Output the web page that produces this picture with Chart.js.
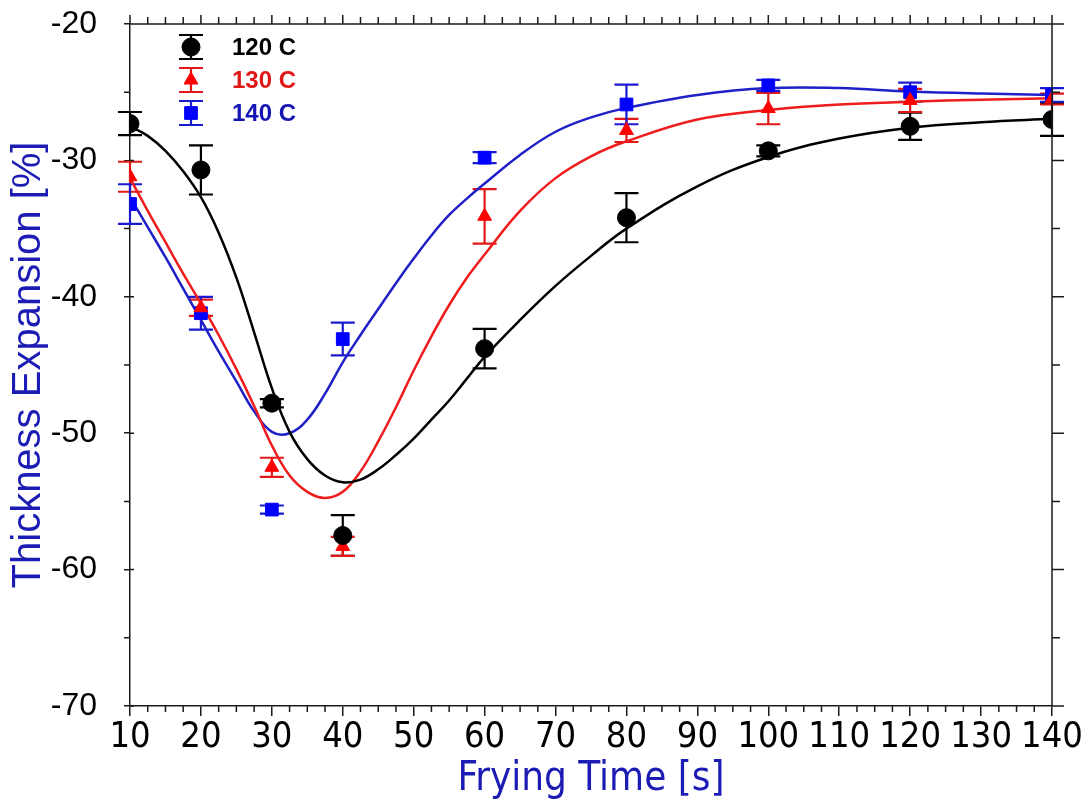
<!DOCTYPE html>
<html>
<head>
<meta charset="utf-8">
<script src="https://cdn.jsdelivr.net/npm/chart.js@4.4.1/dist/chart.umd.min.js"></script>
<style>
  html, body { margin: 0; padding: 0; background: #fff; }
  #wrap { width: 1081px; height: 805px; }
</style>
</head>
<body>
<div id="wrap"><canvas id="expansionchart" width="1081" height="805"></canvas></div>
<script>
// measured points (mean +/- sd)
const fryingTimes = [10, 20, 30, 40, 60, 80, 100, 120, 140]
const exp120 = [-27.3, -30.7, -47.8, -57.5, -43.8, -34.2, -29.3, -27.5, -27.0]
const err120 = [0.85, 1.8, 0.3, 1.5, 1.45, 1.8, 0.4, 1.0, 1.2]
const exp130 = [-31.2, -40.8, -52.5, -58.3, -34.1, -27.8, -26.2, -25.6, -25.5]
const err130 = [1.1, 0.6, 0.7, 0.7, 2.0, 0.85, 1.15, 0.85, 0.4]
const exp140 = [-33.2, -41.2, -55.6, -43.1, -29.8, -25.9, -24.5, -25.0, -25.2]
const err140 = [1.45, 1.2, 0.3, 1.2, 0.4, 1.45, 0.4, 0.7, 0.5]

// fitted curves
const fitTimes = [10, 12.5, 15, 17.5, 20, 22.5, 25, 27.5, 30, 32.5, 35, 37.5, 40, 42.5, 45, 47.5, 50, 52.5, 55, 57.5, 60,
    65, 70, 75, 80, 90, 100, 110, 120, 130, 140]
const fit120 = [-27.5, -28.2, -29.3, -30.8, -32.7, -35.3, -38.6, -42.6, -46.7, -49.9, -51.9, -53.1, -53.6, -53.4, -52.65, -51.6, -50.4, -49.0, -47.6, -46.0, -44.4,
    -41.7, -39.2, -37.0, -35.0, -31.9, -29.75, -28.4, -27.6, -27.2, -26.95]
const fit130 = [-31.3, -33.7, -36.0, -38.3, -40.5, -42.8, -45.3, -48.0, -50.9, -53.1, -54.3, -54.75, -54.3, -52.8, -50.6, -48.1, -45.4, -42.9, -40.6, -38.6, -36.9,
    -33.7, -31.3, -29.7, -28.6, -27.0, -26.3, -25.9, -25.7, -25.55, -25.45]
const fit140 = [-32.7, -34.9, -37.1, -39.4, -41.7, -44.0, -46.2, -48.4, -49.9, -50.0, -49.0, -47.1, -44.8, -42.8, -40.9, -39.0, -37.2, -35.5, -34.0, -32.8, -31.7,
    -29.6, -27.9, -26.85, -26.15, -25.2, -24.7, -24.7, -24.95, -25.1, -25.2]

const seriesNames = ['120 C', '130 C', '140 C']

const axisBlue = '#1c1cb4'
const narrowFont = '"Liberation Sans Narrow", "Arial Narrow", "DejaVu Sans Condensed", sans-serif'
const plainFont = '"Liberation Sans", Arial, sans-serif'

const xy = (xs, ys) => xs.map((v, i) => ({x: v, y: ys[i]}))

const markerStyles = [
    {pointStyle: 'circle', radius: 9, color: '#000000', bar: '#000000', text: '#000000'},
    {pointStyle: 'triangle', radius: 8, color: '#ff0000', bar: '#e01818', text: '#e01818'},
    {pointStyle: 'rect', radius: 9, color: '#0000ff', bar: '#1a1ad0', text: '#1414b4'}
]

function fitLine(data, color) {
    return {
        data: data,
        showLine: true,
        borderColor: color,
        borderWidth: 2.5,
        pointRadius: 0,
        tension: 0.4,
        order: 2
    }
}

function markers(data, errs, st) {
    return {
        data: data,
        errors: errs,
        barColor: st.bar,
        pointStyle: st.pointStyle,
        pointRadius: st.radius,
        backgroundColor: st.color,
        borderColor: st.color,
        borderWidth: 1,
        order: 0
    }
}

// vertical error bars with caps, drawn under the markers
const errorBars = {
    id: 'errorBars',
    beforeDatasetsDraw(chart) {
        const {ctx, scales: {x, y}} = chart
        chart.data.datasets.forEach(ds => {
            if (!ds.errors) return
            ctx.save()
            ctx.strokeStyle = ds.barColor
            ctx.lineWidth = 2.2
            ds.data.forEach((p, i) => {
                const px = x.getPixelForValue(p.x)
                const top = y.getPixelForValue(p.y + ds.errors[i])
                const bot = y.getPixelForValue(p.y - ds.errors[i])
                ctx.beginPath()
                ctx.moveTo(px, top); ctx.lineTo(px, bot)
                ctx.moveTo(px - 12, top); ctx.lineTo(px + 12, top)
                ctx.moveTo(px - 12, bot); ctx.lineTo(px + 12, bot)
                ctx.stroke()
            })
            ctx.restore()
        })
    }
}

// closed box with minor ticks on all four sides
const frameTicks = {
    id: 'frameTicks',
    afterDraw(chart) {
        const {ctx, chartArea: a, scales: {x, y}} = chart
        ctx.save()
        ctx.strokeStyle = '#1a1a1a'
        ctx.lineWidth = 1.5
        ctx.beginPath()
        ctx.moveTo(a.left, a.top); ctx.lineTo(a.right, a.top); ctx.lineTo(a.right, a.bottom)
        for (let v = x.min; v <= x.max; v += 2.5) {
            const px = x.getPixelForValue(v)
            const major = v % 10 === 0
            ctx.moveTo(px, a.top); ctx.lineTo(px, a.top - (major ? 9 : 7))
            if (!major) { ctx.moveTo(px, a.bottom); ctx.lineTo(px, a.bottom + 6) }
        }
        for (let v = y.min; v <= y.max; v += 5) {
            const py = y.getPixelForValue(v)
            const major = v % 10 === 0
            ctx.moveTo(a.right, py); ctx.lineTo(a.right + (major ? 12 : 8), py)
            if (major) { ctx.moveTo(a.left, py); ctx.lineTo(a.left + 4, py) }
            else { ctx.moveTo(a.left, py); ctx.lineTo(a.left - 6, py) }
        }
        ctx.stroke()
        ctx.restore()
    }
}

// legend in the upper left corner of the plot
const cornerLegend = {
    id: 'cornerLegend',
    afterDraw(chart) {
        const {ctx} = chart
        const mx = 191, tx = 232
        const rows = [47, 80, 113]
        ctx.save()
        seriesNames.forEach((name, i) => {
            const st = markerStyles[i], ry = rows[i]
            ctx.strokeStyle = st.bar
            ctx.lineWidth = 2.2
            ctx.beginPath()
            ctx.moveTo(mx, ry - 12); ctx.lineTo(mx, ry + 12)
            ctx.moveTo(mx - 12, ry - 12); ctx.lineTo(mx + 12, ry - 12)
            ctx.moveTo(mx - 12, ry + 12); ctx.lineTo(mx + 12, ry + 12)
            ctx.stroke()
            ctx.fillStyle = st.color
            ctx.strokeStyle = st.color
            ctx.lineWidth = 1
            Chart.helpers.drawPoint(ctx, {pointStyle: st.pointStyle, radius: st.radius, rotation: 0, borderWidth: 1}, mx, ry)
            ctx.fillStyle = st.text
            ctx.font = 'bold 24px ' + plainFont
            ctx.textAlign = 'left'
            ctx.textBaseline = 'middle'
            ctx.fillText(name, tx, ry + 1)
        })
        ctx.restore()
    }
}

const config = {
    type: 'scatter',
    data: {
        datasets: [
            markers(xy(fryingTimes, exp120), err120, markerStyles[0]),
            markers(xy(fryingTimes, exp130), err130, markerStyles[1]),
            markers(xy(fryingTimes, exp140), err140, markerStyles[2]),
            fitLine(xy(fitTimes, fit120), '#000000'),
            fitLine(xy(fitTimes, fit130), '#ee1c1c'),
            fitLine(xy(fitTimes, fit140), '#2020c8')
        ]
    },
    options: {
        responsive: false,
        animation: false,
        events: [],
        layout: {
            padding: {top: 24, right: 29, left: 0, bottom: 0}
        },
        scales: {
            x: {
                type: 'linear',
                min: 10,
                max: 140,
                afterFit: s => { s.height = 99; s.paddingLeft = 0; s.paddingRight = 0 },
                ticks: {
                    stepSize: 10,
                    color: '#000',
                    padding: 0,
                    maxRotation: 0,
                    font: {size: 36, family: narrowFont}
                },
                grid: {drawOnChartArea: false, drawTicks: true, tickLength: 10, color: '#1a1a1a', lineWidth: 1.5},
                border: {display: true, color: '#1a1a1a', width: 1.5},
                title: {
                    display: true,
                    text: 'Frying Time [s]',
                    color: axisBlue,
                    font: {size: 40, family: narrowFont},
                    padding: {top: 0, bottom: 1}
                }
            },
            y: {
                type: 'linear',
                min: -70,
                max: -20,
                afterFit: s => { s.width = 130; s.paddingTop = 0; s.paddingBottom = 0 },
                ticks: {
                    stepSize: 10,
                    color: '#000',
                    padding: 27,
                    font: {size: 32, family: plainFont}
                },
                grid: {drawOnChartArea: false, drawTicks: true, tickLength: 6, color: '#1a1a1a', lineWidth: 1.5},
                border: {display: true, color: '#1a1a1a', width: 1.5},
                title: {
                    display: true,
                    text: 'Thickness Expansion [%]',
                    color: axisBlue,
                    font: {size: 40, family: plainFont},
                    padding: {top: 5, bottom: 0}
                }
            }
        },
        plugins: {
            legend: {display: false},
            tooltip: {enabled: false}
        }
    },
    plugins: [errorBars, frameTicks, cornerLegend]
}

new Chart(document.getElementById('expansionchart').getContext('2d'), config)
</script>
</body>
</html>
